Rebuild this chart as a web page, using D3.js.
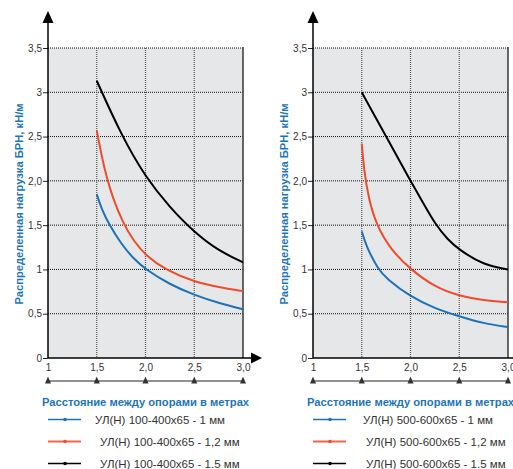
<!DOCTYPE html>
<html><head><meta charset="utf-8">
<script src="https://cdn.jsdelivr.net/npm/d3@7"></script>
<style>
body{margin:0;background:#fff;}
svg{display:block;font-family:"Liberation Sans",Arial,sans-serif;}
</style></head>
<body><svg id="c" width="513" height="469"></svg>
<script>
const xTicks = [1, 1.5, 2, 2.5, 3];
const xTickLabels = ["1", "1,5", "2,0", "2,5", "3,0"];
const yTicks = [0, 0.5, 1, 1.5, 2, 2.5, 3, 3.5];
const yTickLabels = ["0", "0,5", "1", "1,5", "2,0", "2,5", "3", "3,5"];
const yTitle = "Распределенная нагрузка БРН, кН/м";
const xTitle = "Расстояние между опорами в метрах";

// Left chart series: [x, y]
const leftBlue = [[1.5,1.85],[1.55,1.68],[1.63,1.5],[1.75,1.29],[1.87,1.13],[2.0,1.0],[2.25,0.83],[2.5,0.71],[2.75,0.62],[3.0,0.55]];
const leftRed = [[1.5,2.57],[1.55,2.28],[1.6,2.05],[1.66,1.82],[1.77,1.52],[1.88,1.32],[2.0,1.16],[2.21,0.99],[2.5,0.86],[2.75,0.8],[3.0,0.755]];
const leftBlack = [[1.5,3.13],[1.75,2.52],[2.0,2.04],[2.25,1.70],[2.5,1.42],[2.75,1.21],[3.0,1.08]];
const leftLegend = ["УЛ(Н) 100-400x65 - 1 мм", "УЛ(Н) 100-400x65 - 1,2 мм", "УЛ(Н) 100-400x65 - 1.5 мм"];

// Right chart series
const rightBlue = [[1.5,1.43],[1.55,1.25],[1.67,1.0],[1.75,0.9],[2.0,0.69],[2.25,0.56],[2.5,0.47],[2.75,0.39],[3.0,0.35]];
const rightRed = [[1.5,2.42],[1.524,2.12],[1.57,1.8],[1.65,1.5],[1.8,1.22],[2.0,1.0],[2.25,0.8],[2.5,0.7],[2.75,0.65],[3.0,0.63]];
const rightBlack = [[1.5,3.0],[1.75,2.5],[2.0,2.0],[2.13,1.75],[2.26,1.5],[2.38,1.34],[2.5,1.22],[2.75,1.05],[3.0,1.0]];
const rightLegend = ["УЛ(Н) 500-600x65 - 1 мм", "УЛ(Н) 500-600x65 - 1,2 мм", "УЛ(Н) 500-600x65 - 1.5 мм"];

const colors = ["#1c72b8", "#f04b2c", "#000000"];
const svg = d3.select("#c");

function drawChart(ox, series, legend, legendTextX) {
  const W = 195;
  const x = d3.scaleLinear().domain([1, 3]).range([ox, ox + W]);
  const y = d3.scaleLinear().domain([0, 3.5]).range([358, 48]);
  const g = svg.append("g");

  g.append("rect").attr("x", x(1)).attr("y", y(3.5)).attr("width", W).attr("height", y(0) - y(3.5)).attr("fill", "#e6e7e8");

  // horizontal grid
  g.selectAll(".hg").data(yTicks.filter(d => d > 0)).join("line")
    .attr("x1", x(1)).attr("x2", x(3)).attr("y1", d => y(d)).attr("y2", d => y(d))
    .attr("stroke", "#111").attr("stroke-width", 1).attr("stroke-dasharray", "1,1");
  // vertical grid
  g.selectAll(".vg").data(xTicks.filter(d => d > 1 && d < 3)).join("line")
    .attr("x1", d => x(d)).attr("x2", d => x(d)).attr("y1", y(3.5)).attr("y2", y(0))
    .attr("stroke", "#555").attr("stroke-width", 1.2).attr("stroke-dasharray", "1,1");
  // right border
  g.append("line").attr("x1", x(3)).attr("x2", x(3)).attr("y1", y(3.5) - 1).attr("y2", y(0))
    .attr("stroke", "#444").attr("stroke-width", 1.6);

  // y axis with labels
  const ya = g.append("g").attr("transform", `translate(${x(1)},0)`)
    .call(d3.axisLeft(y).tickValues(yTicks).tickFormat((d, i) => yTickLabels[i]).tickSize(5).tickPadding(1));
  ya.select(".domain").remove();
  ya.selectAll("line").attr("stroke", "#222");
  ya.selectAll("text").attr("font-size", 10).attr("fill", "#333").attr("font-family", "Liberation Sans, Arial, sans-serif");

  // axis lines + arrows
  g.append("line").attr("x1", x(1)).attr("x2", x(1)).attr("y1", 20).attr("y2", y(0))
    .attr("stroke", "#000").attr("stroke-width", 1.5);
  g.append("path").attr("d", `M${x(1)},11 L${x(1) - 5.5},23 L${x(1) + 5.5},23 Z`).attr("fill", "#000");
  g.append("line").attr("x1", x(1)).attr("x2", x(3) + 12).attr("y1", y(0)).attr("y2", y(0))
    .attr("stroke", "#000").attr("stroke-width", 1.5);
  g.append("path").attr("d", `M${x(3) + 19},${y(0)} L${x(3) + 8},${y(0) - 5.5} L${x(3) + 8},${y(0) + 5.5} Z`).attr("fill", "#000");

  // lower scale with tick labels and triangles
  const xa = g.append("g").attr("transform", "translate(0,364)")
    .call(d3.axisBottom(x).tickValues(xTicks).tickFormat((d, i) => xTickLabels[i]).tickSize(0).tickPadding(0));
  xa.select(".domain").remove();
  xa.selectAll("text").attr("font-size", 10).attr("fill", "#333").attr("font-family", "Liberation Sans, Arial, sans-serif").attr("dy", "0.71em");
  g.append("line").attr("x1", x(1)).attr("x2", x(3)).attr("y1", 381).attr("y2", 381).attr("stroke", "#222").attr("stroke-width", 1);
  g.selectAll(".tri").data(xTicks).join("path")
    .attr("d", d => `M${x(d)},376.5 L${x(d) - 3},383.5 L${x(d) + 3},383.5 Z`).attr("fill", "#333");

  // y title
  g.append("text").attr("transform", `translate(${ox - 25},204) rotate(-90)`)
    .attr("text-anchor", "middle").attr("font-size", 11.2).attr("font-weight", "bold").attr("fill", "#1c75bc")
    .text(yTitle);

  // curves
  const line = d3.line().x(d => x(d[0])).y(d => y(d[1])).curve(d3.curveBasis);
  series.forEach((s, i) => {
    g.append("path").datum(s).attr("d", line).attr("fill", "none").attr("stroke", colors[i]).attr("stroke-width", 2);
  });

  // x title
  g.append("text").attr("x", x(2)).attr("y", 406).attr("text-anchor", "middle")
    .attr("font-size", 11.2).attr("font-weight", "bold").attr("fill", "#1c75bc").text(xTitle);

  // legend
  const ly = [419.5, 441.5, 463.5];
  legend.forEach((t, i) => {
    g.append("line").attr("x1", x(1)).attr("x2", x(1) + 33).attr("y1", ly[i]).attr("y2", ly[i])
      .attr("stroke", colors[i]).attr("stroke-width", i === 1 ? 1.8 : 1.3).attr("stroke-opacity", i === 1 ? 0.85 : 1);
    g.append("circle").attr("cx", x(1) + 17).attr("cy", ly[i]).attr("r", 1.8).attr("fill", colors[i]);
    g.append("text").attr("x", legendTextX[i]).attr("y", ly[i] + 4).attr("font-size", 11.5).attr("fill", "#333").text(t);
  });
}

drawChart(48, [leftBlue, leftRed, leftBlack], leftLegend, [95, 100, 100]);
drawChart(313, [rightBlue, rightRed, rightBlack], rightLegend, [363, 366, 366]);
</script>
</body></html>
